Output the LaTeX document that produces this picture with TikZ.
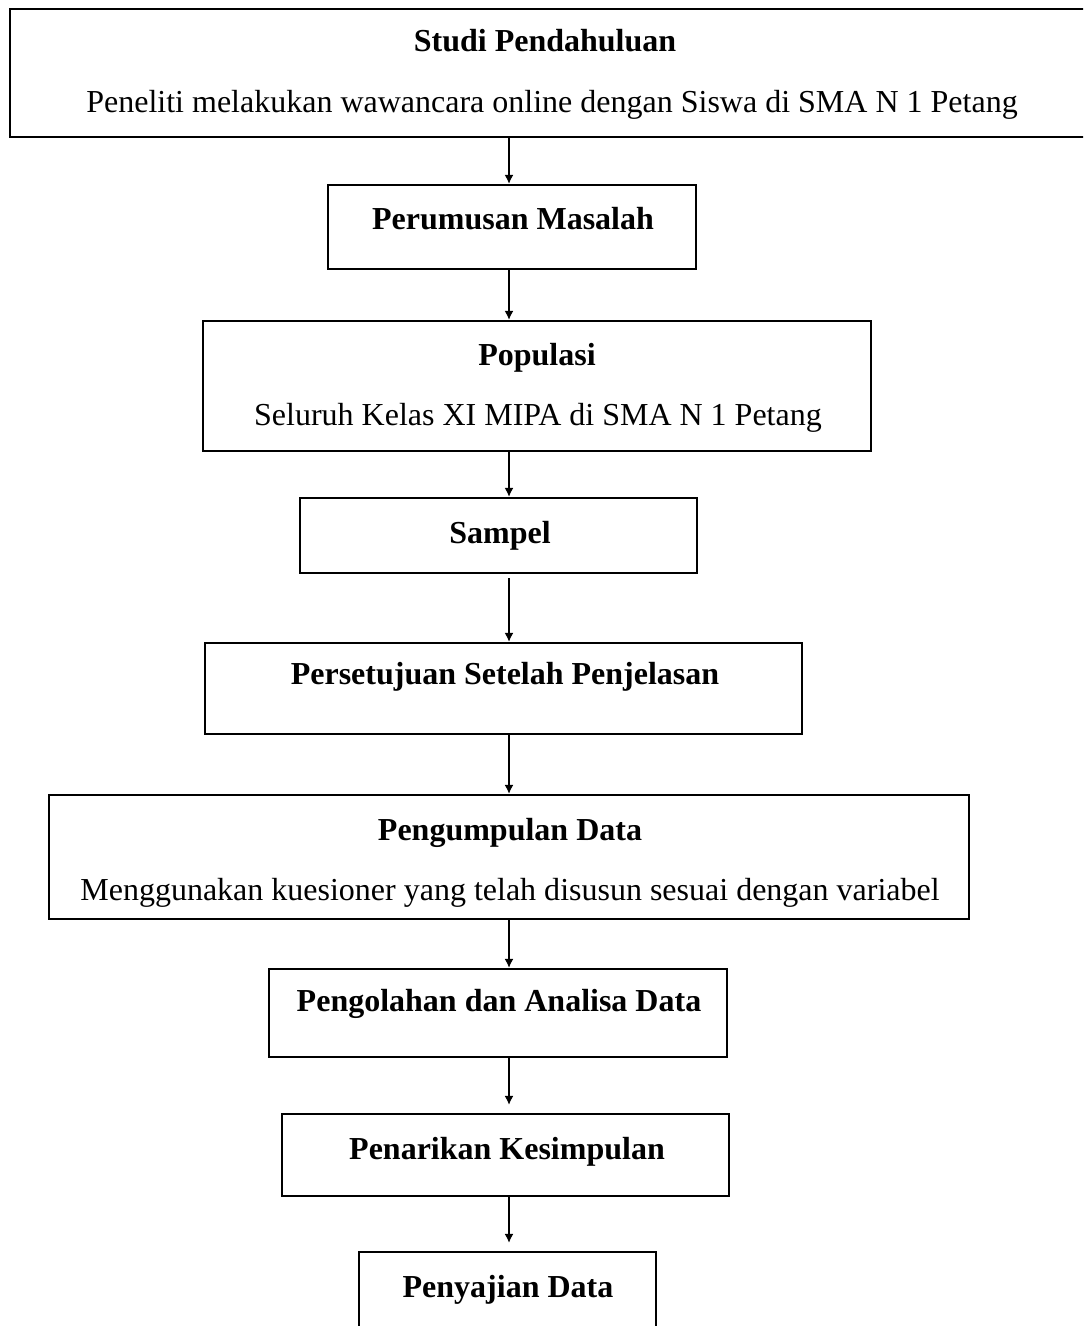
\documentclass[tikz,border=0pt]{standalone}
\usepackage{fontspec}
\setmainfont{Liberation Serif}
\usepackage{tikz}
\usetikzlibrary{arrows.meta}
\tikzstyle{block} = [rectangle, draw=black, line width=1.1pt, inner sep=0pt]
\tikzstyle{heading} = [anchor=base, font=\fontsize{16}{19}\selectfont\bfseries]
\tikzstyle{detail} = [anchor=base, font=\fontsize{16}{19}\selectfont]
\tikzstyle{arrow} = [line width=0.8pt,-{Latex[length=4.5pt,width=4.5pt]}]

\begin{document}
\begin{tikzpicture}[x=0.5pt, y=-0.5pt]
\clip (0,0) rectangle (1083,1326);
\coordinate (axis) at (509,0);

% boxes
\node (studi) [block, minimum width=541pt, minimum height=64pt] at (551,73) {};
\node (rumusan) [block, minimum width=184pt, minimum height=42pt] at (512,227) {};
\node (populasi) [block, minimum width=334pt, minimum height=65pt] at (537,386) {};
\node (sampel) [block, minimum width=198.5pt, minimum height=37.5pt] at (498.5,535.5) {};
\node (persetujuan) [block, minimum width=298.5pt, minimum height=45.5pt] at (503.5,688.5) {};
\node (pengumpulan) [block, minimum width=460pt, minimum height=62pt] at (509,857) {};
\node (pengolahan) [block, minimum width=229pt, minimum height=44pt] at (498,1013) {};
\node (kesimpulan) [block, minimum width=223.5pt, minimum height=41pt] at (505.5,1155) {};
\node (penyajian) [block, minimum width=148.5pt, minimum height=46pt] at (507.5,1298) {};

% texts
\node (studih) [heading] at (545,52) {Studi Pendahuluan};
\node (studid) [detail] at (552,113) {Peneliti melakukan wawancara online dengan Siswa di SMA N 1 Petang};
\node (rumusanh) [heading] at (513,230) {Perumusan Masalah};
\node (populasih) [heading] at (537,365) {Populasi};
\node (populasid) [detail] at (538,425) {Seluruh Kelas XI MIPA di SMA N 1 Petang};
\node (sampelh) [heading] at (500,543) {Sampel};
\node (persetujuanh) [heading] at (505,684) {Persetujuan Setelah Penjelasan};
\node (pengumpulanh) [heading] at (510,840) {Pengumpulan Data};
\node (pengumpuland) [detail] at (510,900) {Menggunakan kuesioner yang telah disusun sesuai dengan variabel};
\node (pengolahanh) [heading] at (499,1011) {Pengolahan dan Analisa Data};
\node (kesimpulanh) [heading] at (507,1159) {Penarikan Kesimpulan};
\node (penyajianh) [heading] at (508,1297) {Penyajian Data};

% arrows
\draw [arrow] (studi.south -| axis) -- (rumusan.north -| axis);
\draw [arrow] (rumusan.south -| axis) -- (populasi.north -| axis);
\draw [arrow] (populasi.south -| axis) -- (sampel.north -| axis);
\draw [arrow, shorten <=2pt] (sampel.south -| axis) -- (persetujuan.north -| axis);
\draw [arrow] (persetujuan.south -| axis) -- (pengumpulan.north -| axis);
\draw [arrow] (pengumpulan.south -| axis) -- (pengolahan.north -| axis);
\draw [arrow, shorten >=4pt] (pengolahan.south -| axis) -- (kesimpulan.north -| axis);
\draw [arrow, shorten >=4pt] (kesimpulan.south -| axis) -- (penyajian.north -| axis);
\end{tikzpicture}
\end{document}
